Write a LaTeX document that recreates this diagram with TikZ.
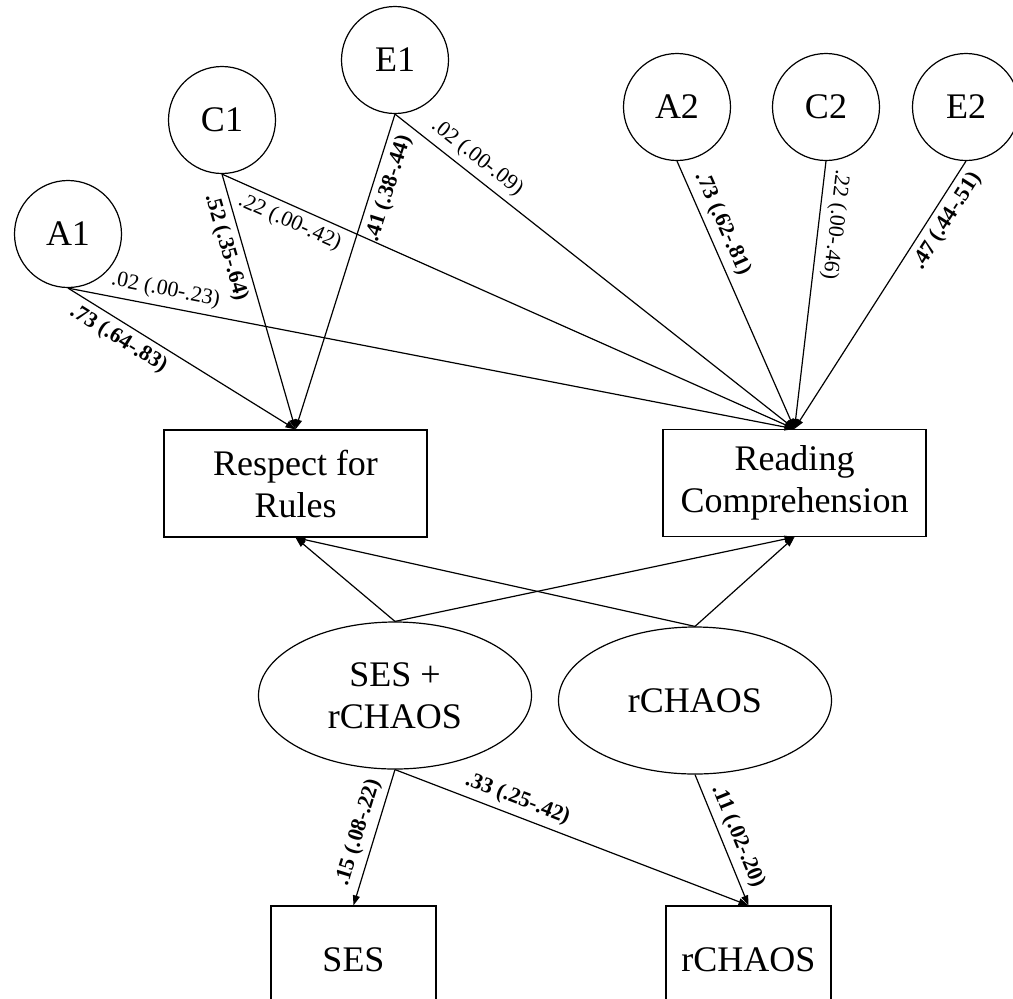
\documentclass[tikz,border=0pt]{standalone}
\usepackage{fontspec}
\setmainfont{Liberation Serif}
\usetikzlibrary{arrows.meta,shapes.geometric}

\begin{document}
\begin{tikzpicture}[x=0.5pt, y=-0.5pt,
	ace/.style={circle, draw, line width=0.6pt, minimum size=53.5pt, inner sep=0pt, font=\fontsize{18}{21}\selectfont},
	obs/.style={rectangle, draw, line width=0.6pt, minimum width=131.5pt, minimum height=53.5pt, align=center, font=\fontsize{18}{21}\selectfont},
	ind/.style={rectangle, draw, line width=0.6pt, minimum width=82.5pt, minimum height=53.5pt, font=\fontsize{18}{21}\selectfont},
	lat/.style={ellipse, draw, line width=0.6pt, minimum width=136.5pt, minimum height=73.5pt, inner sep=0pt, align=center, font=\fontsize{18}{21}\selectfont},
	arr/.style={-{Triangle[length=5pt,width=3.5pt]}, line width=0.6pt},
	wb/.style={sloped, inner sep=3pt, font=\fontsize{11}{12}\selectfont\bfseries},
	wr/.style={sloped, inner sep=3pt, font=\fontsize{11}{12}\selectfont}]
	\useasboundingbox (0,0) rectangle (1013,998);
	%ace factors
	\node[ace] (A1) at (68,234) {A1};
	\node[ace] (C1) at (222,120) {C1};
	\node[ace] (E1) at (395,60) {E1};
	\node[ace] (A2) at (677,107) {A2};
	\node[ace] (C2) at (826,107) {C2};
	\node[ace] (E2) at (966,107) {E2};
	%outcomes
	\node[obs] (rules) at (295.5,483.5) {Respect for\\Rules};
	\node[obs] (read) at (794.5,483) {Reading\\Comprehension};
	%latents
	\node[lat] (sesch) at (395,695.5) {SES +\\rCHAOS};
	\node[lat] (chaos) at (695,700.5) {rCHAOS};
	%indicators
	\node[ind] (ses) at (353.5,959.5) {SES};
	\node[ind] (rch) at (748.5,959.5) {rCHAOS};
	%paths twin 1
	\draw[arr] (A1.south) -- node[wb, below, pos=0.26] {.73 (.64-.83)} (rules.north);
	\draw[arr] (A1.south) -- node[wr, above, pos=0.13] {.02 (.00-.23)} (read.north);
	\draw[arr] (C1.south) -- node[wb, below, pos=0.27] {.52 (.35-.64)} (rules.north);
	\draw[arr] (C1.south) -- node[wr, below, pos=0.13] {.22 (.00-.42)} (read.north);
	\draw[arr] (E1.south) -- node[wb, below, pos=0.22] {.41 (.38-.44)} (rules.north);
	\draw[arr] (E1.south) -- node[wr, above, pos=0.18] {.02 (.00-.09)} (read.north);
	%paths twin 2
	\draw[arr] (A2.south) -- node[wb, above, pos=0.26] {.73 (.62-.81)} (read.north);
	\draw[arr] (C2.south) -- node[wr, above, pos=0.23, allow upside down] {.22 (.00-.46)} (read.north);
	\draw[arr] (E2.south) -- node[wb, below, pos=0.19] {.47 (.44-.51)} (read.north);
	%covariates
	\draw[arr] (sesch.north) -- (rules.south);
	\draw[arr] (sesch.north) -- (read.south);
	\draw[arr] (chaos.north) -- (rules.south);
	\draw[arr] (chaos.north) -- (read.south);
	%loadings
	\draw[arr] (sesch.south) -- node[wb, above, pos=0.5] {.15 (.08-.22)} (ses.north);
	\draw[arr] (sesch.south) -- node[wb, above, pos=0.33] {.33 (.25-.42)} (rch.north);
	\draw[arr] (chaos.south) -- node[wb, above, pos=0.52] {.11 (.02-.20)} (rch.north);
\end{tikzpicture}
\end{document}
